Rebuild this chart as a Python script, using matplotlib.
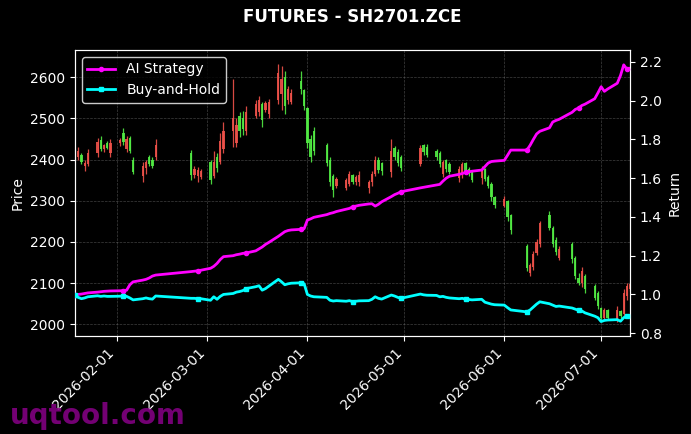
#!/usr/bin/env python3

import pandas as pd
import matplotlib
matplotlib.use("Agg")
import matplotlib.pyplot as plt
import matplotlib.dates as mdates

# trading calendar: business days minus exchange closures / missing days
closed_days = ["2026-02-16", "2026-02-17", "2026-02-18", "2026-02-19", "2026-02-20",
               "2026-02-23", "2026-04-06", "2026-05-01", "2026-05-04", "2026-05-05",
               "2026-06-04", "2026-06-05", "2026-06-19"]
dates = pd.bdate_range("2026-01-19", "2026-07-10")
dates = dates[~dates.isin(pd.to_datetime(closed_days))]

opens = [2410, 2405, 2412, 2385, 2390, 2415, 2448, 2425, 2440, 2415,
         2440, 2465, 2425, 2452, 2400, 2360, 2380, 2405, 2398, 2405,
         2415, 2362, 2360, 2358, 2395, 2360, 2405, 2395, 2425, 2470,
         2440, 2505, 2500, 2470, 2505, 2515, 2535, 2520, 2510, 2545,
         2560, 2600, 2545, 2540, 2590, 2568, 2525, 2450, 2470, 2435,
         2400, 2360, 2335, 2330, 2340, 2362, 2345, 2345, 2330, 2345,
         2365, 2400, 2392, 2370, 2428, 2418, 2405, 2390, 2435, 2430,
         2420, 2415, 2365, 2398, 2390, 2355, 2365, 2392, 2378, 2370,
         2355, 2378, 2358, 2340, 2308, 2288, 2300, 2265, 2190, 2125,
         2140, 2172, 2195, 2265, 2235, 2205, 2160, 2195, 2160, 2112,
         2100, 2118, 2092, 2075, 2040, 2015, 2035, 2012, 2032, 2025,
         2068, 2085]
highs = [2425, 2430, 2415, 2398, 2425, 2452, 2458, 2438, 2444, 2450,
         2452, 2476, 2458, 2456, 2405, 2395, 2400, 2412, 2405, 2450,
         2422, 2385, 2382, 2378, 2400, 2420, 2415, 2465, 2490, 2595,
         2500, 2515, 2517, 2530, 2545, 2555, 2540, 2542, 2548, 2632,
         2628, 2615, 2578, 2570, 2615, 2572, 2528, 2460, 2478, 2440,
         2405, 2365, 2358, 2355, 2372, 2365, 2362, 2372, 2350, 2372,
         2408, 2405, 2395, 2450, 2432, 2425, 2410, 2435, 2438, 2437,
         2425, 2420, 2400, 2402, 2393, 2385, 2395, 2395, 2382, 2372,
         2385, 2380, 2362, 2345, 2312, 2312, 2302, 2268, 2195, 2150,
         2178, 2208, 2252, 2275, 2238, 2212, 2190, 2200, 2165, 2125,
         2140, 2122, 2098, 2080, 2042, 2040, 2038, 2045, 2035, 2085,
         2100, 2102]
lows = [2400, 2400, 2390, 2372, 2385, 2405, 2420, 2418, 2425, 2405,
        2432, 2436, 2418, 2415, 2365, 2345, 2365, 2385, 2380, 2400,
        2350, 2355, 2345, 2352, 2340, 2355, 2370, 2388, 2415, 2430,
        2430, 2455, 2460, 2460, 2500, 2505, 2480, 2515, 2500, 2535,
        2520, 2510, 2535, 2535, 2560, 2520, 2428, 2395, 2410, 2385,
        2335, 2310, 2330, 2325, 2335, 2340, 2338, 2335, 2320, 2335,
        2360, 2368, 2362, 2358, 2400, 2385, 2372, 2385, 2412, 2405,
        2398, 2382, 2358, 2370, 2365, 2345, 2355, 2365, 2360, 2345,
        2340, 2348, 2330, 2300, 2282, 2284, 2252, 2220, 2130, 2118,
        2132, 2168, 2188, 2228, 2188, 2168, 2155, 2150, 2110, 2095,
        2090, 2075, 2058, 2038, 2010, 2010, 2010, 2005, 2015, 2018,
        2060, 2080]
closes = [2418, 2420, 2395, 2392, 2415, 2442, 2425, 2435, 2428, 2440,
          2448, 2442, 2450, 2420, 2370, 2385, 2395, 2390, 2384, 2435,
          2362, 2378, 2375, 2372, 2350, 2395, 2380, 2445, 2470, 2500,
          2485, 2470, 2475, 2515, 2535, 2545, 2495, 2538, 2540, 2610,
          2595, 2530, 2570, 2562, 2570, 2530, 2440, 2405, 2420, 2392,
          2345, 2325, 2352, 2350, 2365, 2345, 2358, 2362, 2345, 2365,
          2400, 2375, 2372, 2420, 2405, 2392, 2380, 2428, 2418, 2410,
          2405, 2390, 2395, 2378, 2370, 2378, 2390, 2370, 2365, 2350,
          2375, 2352, 2335, 2310, 2290, 2305, 2260, 2228, 2138, 2145,
          2170, 2200, 2245, 2235, 2195, 2175, 2182, 2158, 2118, 2100,
          2130, 2085, 2065, 2045, 2015, 2035, 2015, 2035, 2020, 2075,
          2092, 2098]

ai_strategy = [0.995, 1.000, 1.002, 1.005, 1.008, 1.012, 1.014, 1.016, 1.017, 1.018,
               1.019, 1.020, 1.022, 1.050, 1.065, 1.074, 1.078, 1.085, 1.095, 1.100,
               1.118, 1.120, 1.122, 1.125, 1.135, 1.145, 1.160, 1.180, 1.195, 1.200,
               1.205, 1.208, 1.212, 1.214, 1.225, 1.235, 1.245, 1.258, 1.268, 1.300,
               1.312, 1.324, 1.330, 1.333, 1.336, 1.340, 1.384, 1.390, 1.398, 1.412,
               1.418, 1.422, 1.428, 1.440, 1.444, 1.452, 1.456, 1.460, 1.467, 1.468,
               1.456, 1.465, 1.478, 1.505, 1.515, 1.522, 1.530, 1.550, 1.553, 1.556,
               1.565, 1.568, 1.585, 1.600, 1.610, 1.620, 1.624, 1.630, 1.633, 1.636,
               1.642, 1.660, 1.678, 1.686, 1.688, 1.692, 1.718, 1.745, 1.745, 1.770,
               1.800, 1.828, 1.842, 1.860, 1.890, 1.898, 1.904, 1.940, 1.955, 1.962,
               1.975, 1.982, 2.010, 2.040, 2.072, 2.048, 2.060, 2.090, 2.130, 2.185,
               2.162, 2.168]
buy_hold = [0.995, 0.985, 0.978, 0.982, 0.988, 0.993, 0.990, 0.992, 0.990, 0.990,
            0.991, 0.992, 0.990, 0.982, 0.972, 0.978, 0.982, 0.978, 0.976, 0.992,
            0.980, 0.980, 0.978, 0.978, 0.970, 0.988, 0.975, 0.990, 1.000, 1.005,
            1.012, 1.015, 1.020, 1.030, 1.040, 1.045, 1.022, 1.030, 1.042, 1.078,
            1.065, 1.050, 1.055, 1.058, 1.060, 1.055, 1.000, 0.992, 0.988, 0.985,
            0.970, 0.966, 0.968, 0.965, 0.968, 0.963, 0.965, 0.967, 0.968, 0.975,
            0.988, 0.980, 0.976, 0.997, 0.992, 0.985, 0.980, 1.002, 0.998, 0.996,
            0.995, 0.988, 0.990, 0.985, 0.982, 0.978, 0.980, 0.975, 0.974, 0.972,
            0.975, 0.960, 0.955, 0.950, 0.947, 0.945, 0.932, 0.920, 0.910, 0.920,
            0.935, 0.950, 0.962, 0.952, 0.945, 0.938, 0.940, 0.930, 0.924, 0.918,
            0.915, 0.905, 0.888, 0.880, 0.860, 0.866, 0.868, 0.870, 0.862, 0.880,
            0.890, 0.892]

up_color = "#f0524a"
down_color = "#52ec44"

fig, ax = plt.subplots(figsize=(6.91, 4.34), dpi=100)
fig.patch.set_facecolor("black")
ax.set_facecolor("black")
fig.subplots_adjust(left=0.1085, right=0.912, top=0.885, bottom=0.226)

# candlesticks (red = up, green = down)
x = mdates.date2num(dates)
colors = [up_color if c >= o else down_color for o, c in zip(opens, closes)]
ax.vlines(x, lows, highs, colors=colors, linewidth=0.9, alpha=0.9, zorder=2)
bottoms = [min(o, c) for o, c in zip(opens, closes)]
heights = [max(abs(c - o), 1) for o, c in zip(opens, closes)]
ax.bar(x, heights, bottom=bottoms, width=0.7, color=colors, alpha=0.9, zorder=3)

ax.set_xlim(x[0], x[-1])
ax.set_ylim(1972, 2666)
ax.set_ylabel("Price", color="white")
ax.grid(True, color="gray", linestyle="--", linewidth=0.5, alpha=0.5)
ax.set_axisbelow(True)

ax2 = ax.twinx()
ax2.plot(x, ai_strategy, color="#ff00ff", linewidth=2, marker="o", markersize=3,
         markevery=11, label="AI Strategy", zorder=5)
ax2.plot(x, buy_hold, color="#00ffff", linewidth=2, marker="s", markersize=3,
         markevery=11, label="Buy-and-Hold", zorder=5)
ax2.set_ylim(0.786, 2.262)
ax2.set_ylabel("Return", color="white")

ax.xaxis.set_major_locator(mdates.MonthLocator())
ax.xaxis.set_major_formatter(mdates.DateFormatter("%Y-%m-%d"))
plt.setp(ax.get_xticklabels(), rotation=45, ha="right")

for a in (ax, ax2):
    a.tick_params(colors="white")
    for spine in a.spines.values():
        spine.set_color("white")

leg = ax2.legend(loc="upper left", facecolor="black", edgecolor="white")
for t in leg.get_texts():
    t.set_color("white")

ax.set_title("FUTURES - SH2701.ZCE", color="white", fontsize=12,
             fontweight="bold", pad=20)

fig.text(0.014, 0.022, "uqtool.com", fontsize=20, fontweight="bold",
         color="purple", alpha=0.9)

plt.savefig("out.png", facecolor=fig.get_facecolor())
